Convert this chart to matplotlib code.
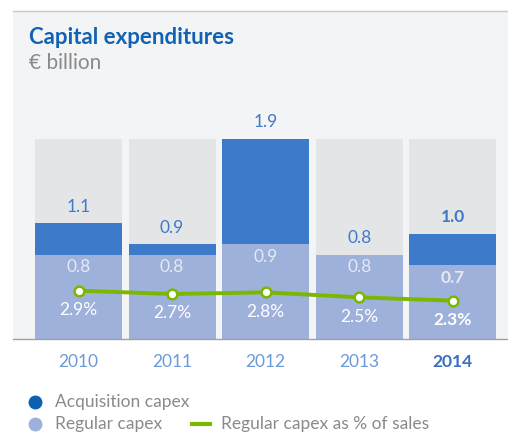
import matplotlib.pyplot as plt
from matplotlib.lines import Line2D

years = ["2010", "2011", "2012", "2013", "2014"]
regular = [0.8, 0.8, 0.9, 0.8, 0.7]
acquisition = [0.3, 0.1, 1.0, 0.0, 0.3]
totals = [1.1, 0.9, 1.9, 0.8, 1.0]
pct_sales = [2.9, 2.7, 2.8, 2.5, 2.3]

plt.rcParams['font.family'] = ['Lato', 'DejaVu Sans']

BLUE_DARK = "#3d7ac9"
BLUE_LIGHT = "#9eb1da"
GREEN = "#7ab800"
PANEL = "#f3f4f5"

W, H = 508, 434
fig = plt.figure(figsize=(W / 100, H / 100), dpi=100)

# top border of the panel
fig.add_artist(Line2D([13 / W, 1], [(H - 11) / H] * 2, color="#c8c8c8", lw=1))

ax = fig.add_axes([13 / W, (H - 339) / H, 1 - 13 / W, (339 - 11) / H])
ax.set_facecolor(PANEL)
ymax = 1.9 / 200 * 328
ax.set_ylim(0, ymax)
ax.set_xlim(-0.70, 4.59)
x = range(len(years))
width = 0.93

ax.bar(x, [1.9] * len(years), width, color="#e4e5e7", zorder=1)
ax.bar(x, regular, width, color=BLUE_LIGHT, zorder=2)
ax.bar(x, acquisition, width, bottom=regular, color=BLUE_DARK, zorder=2)

for i, yr in enumerate(years):
    bold = "bold" if yr == "2014" else "normal"
    ax.annotate(f"{totals[i]:.1f}", (i, totals[i]), xytext=(0, 12),
                textcoords="offset points", ha="center", va="center",
                color=BLUE_DARK, fontsize=12.5, fontweight=bold)
    ax.annotate(f"{regular[i]:.1f}", (i, regular[i]), xytext=(0, -9),
                textcoords="offset points", ha="center", va="center",
                color="#e6e9f2", fontsize=12.5, fontweight=bold)
    ax.text(i, -0.22, yr, ha="center", va="center", fontsize=12.5,
            color="#3a6fc0" if yr == "2014" else "#6a9ad8", fontweight=bold)

ax2 = ax.twinx()
ax2.set_ylim(0, ymax * 12 / 1.9)
ax2.plot(x, pct_sales, color=GREEN, lw=2.8, marker="o", ms=7,
         mfc="white", mec=GREEN, mew=1.8, zorder=5)
for i, yr in enumerate(years):
    ax2.annotate(f"{pct_sales[i]:.1f}%", (i, pct_sales[i]), xytext=(0, -14),
                 textcoords="offset points", ha="center", va="center",
                 color="white", fontsize=12.5,
                 fontweight="bold" if yr == "2014" else "normal")

for a in (ax, ax2):
    a.set_xticks([])
    a.set_yticks([])
    for s in a.spines.values():
        s.set_visible(False)
ax.spines["bottom"].set_visible(True)
ax.spines["bottom"].set_color("#a0a0a0")
ax.spines["bottom"].set_linewidth(1)

# titles
fig.text(29 / W, 1 - 38 / H, "Capital expenditures", fontsize=16,
         fontweight="bold", color="#1262b3", va="center")
fig.text(29 / W, 1 - 63 / H, "€ billion", fontsize=15, color="#8a8a8a",
         va="center")

# legend
fig.add_artist(Line2D([35 / W], [1 - 402 / H], marker="o", ms=9, color="#0d5fb0",
                      transform=fig.transFigure))
fig.add_artist(Line2D([35 / W], [1 - 424 / H], marker="o", ms=9, color=BLUE_LIGHT,
                      transform=fig.transFigure))
fig.add_artist(Line2D([192 / W, 210 / W], [1 - 424 / H] * 2, lw=3, color=GREEN,
                      transform=fig.transFigure))
fig.text(55 / W, 1 - 402 / H, "Acquisition capex", fontsize=12.5, color="#8a8a8a", va="center")
fig.text(55 / W, 1 - 424 / H, "Regular capex", fontsize=12.5, color="#8a8a8a", va="center")
fig.text(221 / W, 1 - 424 / H, "Regular capex as % of sales", fontsize=12.5,
         color="#8a8a8a", va="center")

fig.savefig("out.png", dpi=100)
